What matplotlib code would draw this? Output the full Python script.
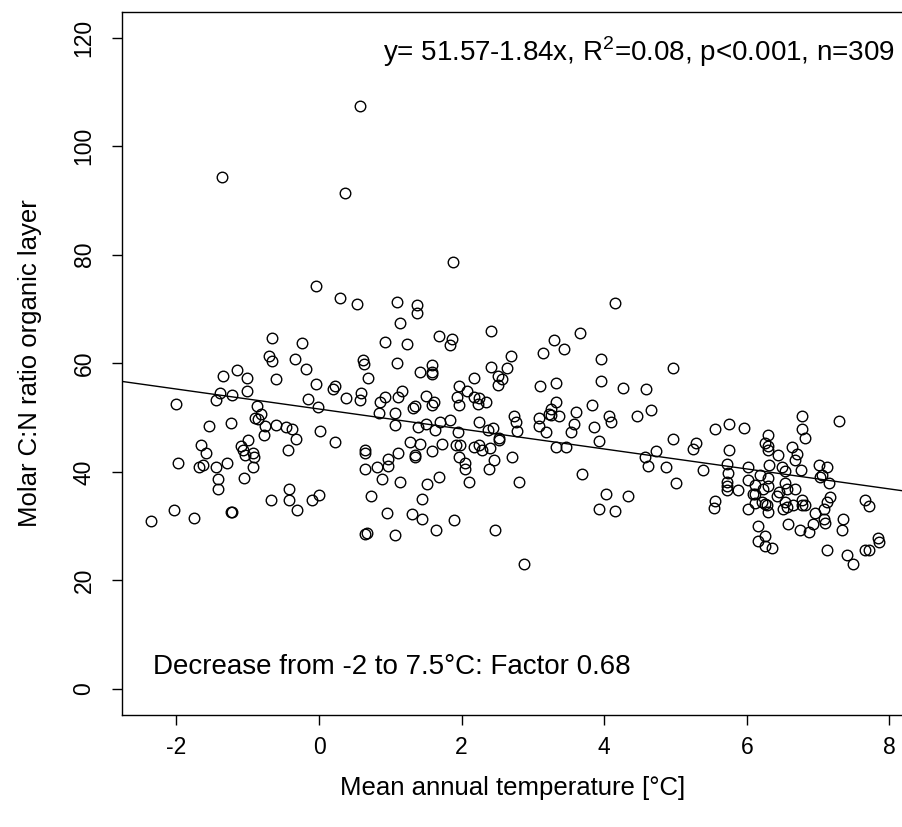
import numpy as np
import matplotlib
matplotlib.use("Agg")
import matplotlib.pyplot as plt

# mean annual temperature [°C] and molar C:N ratio
temp = [
    -1.36, -2.36, -2.00, -1.98, -2.03, -1.76, -1.69, -1.63, -1.65, -1.58,
    -1.54, -1.45, -1.42, -1.42, -1.44, -1.39, -1.35, -1.29, -1.24, -1.22,
    -1.23, -1.22, -1.15, -1.09, -1.07, -1.05, -1.01, -1.01, -0.99, -0.93,
    -0.91, -0.92, -1.04, -0.87, -0.90, -0.85, -0.82, -0.76, -0.77, -0.68,
    -0.70, -0.66, -0.66, -0.60, -0.61, -0.46, -0.44, -0.42, -0.42, -0.38,
    -0.34, -0.32, -0.31, -0.24, -0.18, -0.04, -0.16, -0.02, 0.02, -0.10,
    0.00, -0.04,
    0.57, 0.36, 1.88, 0.29, 1.09, 0.53, 4.15,
    1.37, 1.37, 1.14, 0.93, 1.23, 1.68, 1.86, 1.84, 2.41,
    0.61, 0.63, 1.09, 0.69, 1.59, 1.42, 1.58, 1.58, 2.17, 2.41,
    2.63, 2.69, 2.51, 2.57, 2.51,
    0.22, 0.20, 0.38, 0.59, 0.57, 0.92, 0.86, 1.17, 1.11, 0.84,
    1.07, 1.07, 1.32, 1.35, 1.50, 1.61, 1.58, 1.97, 2.07, 1.93,
    2.17, 2.24, 2.23, 2.34, 1.96, 1.39, 1.50, 1.63, 1.70, 1.84,
    1.95, 2.24, 2.37, 2.44, 2.73, 2.76, 2.78, 2.53,
    0.22, 0.65, 0.65, 0.65, 0.81, 0.97, 0.97, 1.11, 0.89, 1.14,
    1.28, 1.42, 1.34, 1.34, 1.58, 1.72, 1.52, 1.68, 0.73, 1.44,
    0.95, 1.31, 1.44, 1.90, 1.64, 2.47, 0.65, 0.67, 1.07, 1.92,
    1.98, 1.96, 2.05, 2.05, 2.10, 2.17, 2.24, 2.29, 2.40, 2.52,
    2.45, 2.39, 2.71, 2.81, 2.87,
    3.66, 3.29, 3.44, 3.14, 3.96, 4.96, 3.96, 3.10, 3.32, 4.27,
    4.58, 3.32, 3.83, 3.25, 3.23, 3.26, 3.08, 3.09, 3.37, 3.60,
    4.07, 4.10, 4.46, 4.66, 3.58, 3.54, 3.85, 3.18, 5.56,
    3.32, 3.47, 3.93, 4.97, 5.28, 5.25, 4.73, 4.57, 4.62, 4.86,
    5.39, 5.00, 3.69, 4.03, 4.33, 3.93, 4.15, 5.56, 5.54,
    5.75, 5.96, 6.30, 6.78, 6.78, 6.81, 7.29,
    5.75, 6.26, 6.29, 6.29, 6.64, 6.71, 6.67, 6.44, 5.72, 5.74,
    5.72, 5.72, 5.72, 6.01, 6.31, 6.50, 6.54, 6.76, 7.01, 7.13,
    7.05, 7.03, 7.15, 6.18, 6.29, 6.01, 6.11, 6.30, 6.53, 6.22,
    5.88, 6.56, 6.67, 6.08, 6.11, 6.45, 6.42, 6.21, 6.26, 6.28,
    6.12, 6.29, 6.01, 6.54, 6.56, 6.51, 6.65, 6.77, 6.78, 6.82,
    6.95, 7.08, 7.13, 7.17, 7.08, 7.10, 7.35, 7.33, 7.66, 7.72,
    6.15, 6.58, 6.75, 6.87, 6.93, 6.26, 6.15, 6.26, 6.35, 7.13,
    7.41, 7.49, 7.66, 7.71, 7.84, 7.86,
]
cn_ratio = [
    94.3, 30.9, 52.5, 41.6, 32.9, 31.5, 40.9, 41.3, 45.0, 43.5,
    48.5, 40.8, 38.7, 36.8, 53.3, 54.5, 57.7, 41.6, 49.0, 54.1,
    32.6, 32.6, 58.7, 44.7, 44.0, 38.9, 57.3, 54.8, 45.9, 43.5,
    42.7, 40.9, 43.1, 52.2, 49.9, 49.8, 50.7, 48.4, 46.7, 34.9,
    61.3, 60.4, 64.6, 57.1, 48.7, 48.3, 44.0, 36.8, 34.8, 47.9,
    60.8, 46.0, 32.9, 63.8, 59.0, 56.1, 53.4, 51.9, 47.6, 34.8,
    35.8, 74.3,
    107.4, 91.4, 78.6, 72.0, 71.3, 70.9, 71.1,
    70.8, 69.3, 67.5, 64.0, 63.5, 65.1, 64.5, 63.4, 65.9,
    60.6, 59.8, 60.1, 57.3, 59.6, 58.3, 58.3, 58.0, 57.3, 59.3,
    59.2, 61.4, 57.6, 57.1, 56.0,
    55.8, 55.2, 53.6, 54.6, 53.2, 53.8, 52.9, 54.9, 53.8, 50.8,
    50.8, 48.6, 51.8, 52.1, 54.0, 52.9, 52.3, 55.8, 54.9, 53.8,
    53.8, 53.6, 52.5, 52.9, 52.3, 48.2, 48.9, 47.7, 49.2, 49.5,
    47.4, 49.1, 47.7, 48.1, 50.2, 49.1, 47.6, 46.3,
    45.5, 44.1, 43.5, 40.6, 40.9, 42.4, 41.0, 43.5, 38.7, 38.1,
    45.5, 45.1, 43.1, 42.8, 43.8, 45.1, 37.7, 39.1, 35.6, 35.0,
    32.4, 32.2, 31.4, 31.1, 29.3, 29.3, 28.5, 28.8, 28.4, 44.9,
    44.9, 42.8, 41.7, 40.5, 38.1, 44.6, 44.9, 44.0, 44.3, 45.9,
    42.2, 40.5, 42.8, 38.2, 23.0,
    65.6, 64.3, 62.7, 61.9, 60.8, 59.2, 56.8, 55.8, 56.3, 55.5,
    55.2, 52.9, 52.3, 51.6, 50.7, 50.5, 50.0, 48.5, 50.3, 51.0,
    50.3, 49.1, 50.2, 51.3, 48.9, 47.3, 48.3, 47.3, 47.8,
    44.6, 44.6, 45.7, 46.1, 45.4, 44.2, 43.8, 42.8, 41.1, 40.9,
    40.3, 38.0, 39.6, 35.9, 35.6, 33.2, 32.7, 34.6, 33.4,
    48.9, 48.1, 46.8, 50.2, 47.8, 46.3, 49.4,
    44.1, 45.3, 44.7, 44.0, 44.5, 43.3, 42.2, 43.1, 41.5, 39.7,
    38.2, 37.3, 36.6, 40.8, 41.3, 40.8, 40.1, 40.3, 41.3, 40.9,
    39.4, 39.0, 38.0, 39.4, 38.8, 38.5, 37.6, 37.4, 38.0, 36.9,
    36.6, 36.8, 36.9, 36.0, 35.9, 36.2, 35.5, 34.4, 34.1, 33.8,
    34.3, 32.6, 33.1, 34.5, 33.6, 33.2, 33.9, 34.8, 33.8, 33.8,
    32.4, 33.2, 34.5, 35.4, 31.4, 30.6, 31.3, 29.3, 34.8, 33.7,
    30.0, 30.3, 29.3, 29.0, 30.4, 28.2, 27.3, 26.3, 26.0, 25.6,
    24.7, 23.0, 25.6, 25.6, 27.9, 27.0,
]

# linear model as stated on the plot
intercept = 51.57
slope = -1.84

x_ticks = [-2, 0, 2, 4, 6, 8]
y_ticks = [0, 20, 40, 60, 80, 100, 120]

plt.rcParams['font.family'] = ['Liberation Sans', 'DejaVu Sans']
plt.rcParams['axes.unicode_minus'] = False
plt.rcParams['mathtext.fontset'] = 'custom'
plt.rcParams['mathtext.rm'] = 'Liberation Sans'

fig = plt.figure(figsize=(9.03, 8.27), dpi=100)
ax = fig.add_axes([122 / 903, 1 - 715 / 827, 781 / 903, 703 / 827])

ax.plot(temp, cn_ratio, linestyle='none', marker='o', ms=7.6,
        mfc='none', mec='black', mew=1.0)

xl = (-2.763, 8.19)
xs = np.array(xl)
ax.plot(xs, intercept + slope * xs, color='black', lw=1.0)

ax.set_xlim(*xl)
ax.set_ylim(-4.79, 124.7)
ax.set_xticks(x_ticks)
ax.set_yticks(y_ticks)
ax.tick_params(direction='out', length=7, width=1, labelsize=16.5)
ax.tick_params(axis='x', pad=8)
ax.tick_params(axis='y', pad=12)
for lab in ax.get_yticklabels():
    lab.set_rotation(90)
    lab.set_va('center')
for sp in ax.spines.values():
    sp.set_linewidth(1.0)

ax.set_xlabel("Mean annual temperature [°C]", fontsize=18.5, labelpad=12)
ax.set_ylabel("Molar C:N ratio organic layer", fontsize=18.5, labelpad=22)

ax.text(0.990, 0.943, "y= 51.57-1.84x, R$^2$=0.08, p<0.001, n=309",
        transform=ax.transAxes, ha='right', va='center', fontsize=20)
ax.text(0.04, 0.068, "Decrease from -2 to 7.5°C: Factor 0.68",
        transform=ax.transAxes, ha='left', va='center', fontsize=20)

fig.savefig("out.png", dpi=100)
